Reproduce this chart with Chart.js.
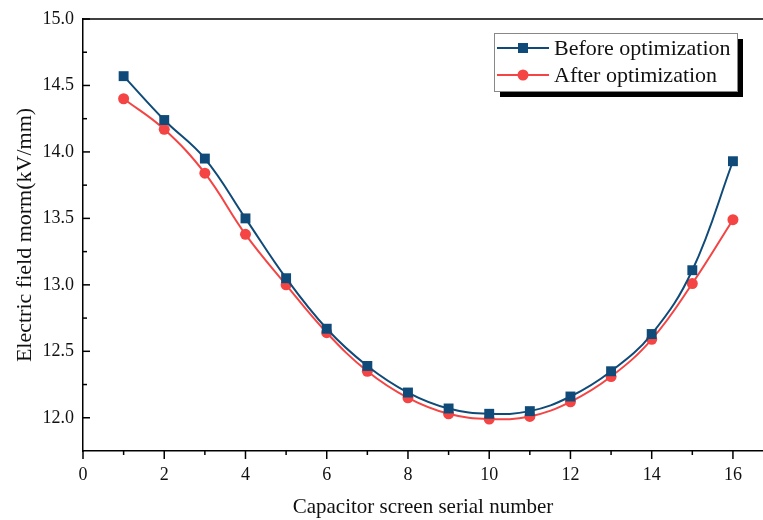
<!DOCTYPE html>
<html>
<head>
<meta charset="utf-8">
<script src="https://cdn.jsdelivr.net/npm/chart.js@4.4.0/dist/chart.umd.min.js"></script>
<style>
  html, body { margin: 0; padding: 0; background: #fff; overflow: hidden; }
</style>
</head>
<body>
<canvas id="grafico" width="763" height="520"></canvas>
<script>
// screen numbers and field norm (kV/mm) --------------------------
var screenNo = [1, 2, 3, 4, 5, 6, 7, 8, 9, 10, 11, 12, 13, 14, 15, 16];
var beforeOpt = [14.57, 14.24, 13.95, 13.50, 13.05, 12.67, 12.39, 12.19, 12.07, 12.03, 12.05, 12.16, 12.35, 12.63, 13.11, 13.93];
var afterOpt = [14.40, 14.17, 13.84, 13.38, 13.00, 12.64, 12.35, 12.15, 12.03, 11.99, 12.01, 12.12, 12.31, 12.59, 13.01, 13.49];

// axis ticks
var xTicks = [0, 2, 4, 6, 8, 10, 12, 14, 16];
var xMinor = [1, 3, 5, 7, 9, 11, 13, 15];
var yTicks = [12.0, 12.5, 13.0, 13.5, 14.0, 14.5, 15.0];
var yMinor = [12.25, 12.75, 13.25, 13.75, 14.25, 14.75];

var serif = "'Liberation Serif', 'Times New Roman', serif";
var azul = "#0f4a78";
var vermelho = "#f44444";

function toPoints(vals) {
  return vals.map(function (v, i) { return { x: screenNo[i], y: v }; });
}

// tick marks, top frame line and the boxed legend
var extras = {
  id: "extras",
  afterDraw: function (chart) {
    var ctx = chart.ctx, a = chart.chartArea;
    var sx = chart.scales.x, sy = chart.scales.y;
    ctx.save();
    ctx.strokeStyle = "#000";
    ctx.lineWidth = 1.5;
    function seg(x1, y1, x2, y2) {
      ctx.beginPath(); ctx.moveTo(x1, y1); ctx.lineTo(x2, y2); ctx.stroke();
    }
    seg(a.left, a.top, a.right, a.top);
    yTicks.forEach(function (v) { var p = sy.getPixelForValue(v); seg(a.left, p, a.left + 7, p); });
    yMinor.forEach(function (v) { var p = sy.getPixelForValue(v); seg(a.left, p, a.left + 4, p); });
    xTicks.forEach(function (v) { var p = sx.getPixelForValue(v); seg(p, a.bottom, p, a.bottom + 8); });
    xMinor.forEach(function (v) { var p = sx.getPixelForValue(v); seg(p, a.bottom, p, a.bottom + 4); });

    // legend
    var bx = 494, by = 33, bw = 243, bh = 58;
    ctx.fillStyle = "#000";
    ctx.fillRect(bx + 6, by + 6, bw, bh);
    ctx.fillStyle = "#fff";
    ctx.fillRect(bx, by, bw, bh);
    ctx.strokeStyle = "#888";
    ctx.lineWidth = 1;
    ctx.strokeRect(bx + 0.5, by + 0.5, bw, bh);

    ctx.font = "22px " + serif;
    ctx.textBaseline = "middle";
    chart.data.datasets.forEach(function (ds, i) {
      var ly = by + 15 + i * 27;
      ctx.strokeStyle = ds.borderColor;
      ctx.lineWidth = 2;
      seg(497, ly, 549, ly);
      ctx.fillStyle = ds.backgroundColor;
      if (ds.pointStyle === "rect") {
        ctx.fillRect(518, ly - 5, 10, 10);
      } else {
        ctx.beginPath(); ctx.arc(523, ly, 5.5, 0, Math.PI * 2); ctx.fill();
      }
      ctx.fillStyle = "#111";
      ctx.fillText(ds.label, 554, ly + 1);
    });
    ctx.restore();
  }
};

new Chart(document.getElementById("grafico"), {
  type: "line",
  data: {
    datasets: [
      {
        label: "Before optimization",
        data: toPoints(beforeOpt),
        borderColor: azul,
        backgroundColor: azul,
        borderWidth: 2,
        pointStyle: "rect",
        pointRadius: 7,
        pointBorderWidth: 0,
        tension: 0.4
      },
      {
        label: "After optimization",
        data: toPoints(afterOpt),
        borderColor: vermelho,
        backgroundColor: vermelho,
        borderWidth: 2,
        pointStyle: "circle",
        pointRadius: 5.5,
        pointBorderWidth: 0,
        tension: 0.4
      }
    ]
  },
  options: {
    responsive: false,
    animation: false,
    layout: { autoPadding: false, padding: { top: 19, right: 0, left: 0, bottom: 0 } },
    plugins: { legend: { display: false }, tooltip: { enabled: false } },
    scales: {
      x: {
        type: "linear",
        min: 0,
        max: 16.74,
        afterFit: function (s) { s.height = 69; s.paddingLeft = 0; s.paddingRight = 0; },
        afterBuildTicks: function (s) { s.ticks = xTicks.map(function (v) { return { value: v }; }); },
        grid: { display: false, drawTicks: false },
        border: { color: "#000", width: 1.5 },
        ticks: { color: "#111", padding: 13, font: { family: serif, size: 18 } },
        title: {
          display: true,
          text: "Capacitor screen serial number",
          color: "#111",
          padding: { top: 0, bottom: 0 },
          font: { family: serif, size: 21 }
        }
      },
      y: {
        min: 11.75,
        max: 15.0,
        afterFit: function (s) { s.width = 83; s.paddingTop = 0; s.paddingBottom = 0; },
        afterBuildTicks: function (s) { s.ticks = yTicks.map(function (v) { return { value: v }; }); },
        grid: { display: false, drawTicks: false },
        border: { color: "#000", width: 1.5 },
        ticks: {
          color: "#111",
          padding: 9,
          font: { family: serif, size: 18 },
          callback: function (v) { return Number(v).toFixed(1); }
        },
        title: {
          display: true,
          text: "Electric field morm(kV/mm)",
          color: "#111",
          padding: { top: 12, bottom: 0 },
          font: { family: serif, size: 22 }
        }
      }
    }
  },
  plugins: [extras]
});
</script>
</body>
</html>
